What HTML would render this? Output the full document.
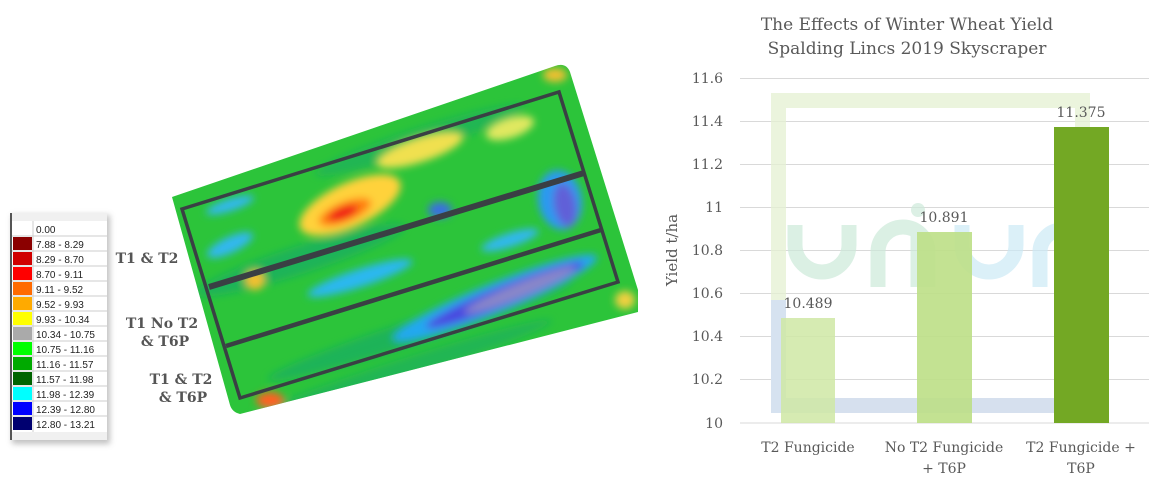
<!DOCTYPE html>
<html><head><meta charset="utf-8"><style>
html,body{margin:0;padding:0;background:#fff;width:1165px;height:485px;overflow:hidden}
svg{display:block}
</style></head><body>
<svg width="1165" height="485" viewBox="0 0 1165 485" xmlns="http://www.w3.org/2000/svg">
<defs>
<clipPath id="field"><path d="M172,197 L555,66 Q566,62 570,72 L638,290 L638,312 L240,414 Q232,412 230,405 Z"/></clipPath>
<filter id="bl" x="-30%" y="-30%" width="160%" height="160%"><feGaussianBlur stdDeviation="4"/></filter>
<filter id="sh" x="-10%" y="-10%" width="130%" height="130%"><feGaussianBlur stdDeviation="3"/></filter>
</defs>

<!-- legend -->
<rect x="12" y="215" width="98" height="229" fill="#999" filter="url(#sh)" opacity="0.6"/>
<rect x="10" y="213" width="97" height="227" fill="#f0f0f0"/>
<rect x="10" y="213" width="2" height="227" fill="#555"/>
<g font-family="Liberation Sans, sans-serif" font-size="10" fill="#222">
<rect x="12" y="221" width="95" height="211" fill="#fff"/>
<g stroke="#ccc" stroke-width="1">
<line x1="12" y1="236" x2="107" y2="236"/><line x1="12" y1="251" x2="107" y2="251"/><line x1="12" y1="266" x2="107" y2="266"/><line x1="12" y1="281" x2="107" y2="281"/><line x1="12" y1="296" x2="107" y2="296"/><line x1="12" y1="311" x2="107" y2="311"/><line x1="12" y1="326" x2="107" y2="326"/><line x1="12" y1="341" x2="107" y2="341"/><line x1="12" y1="356" x2="107" y2="356"/><line x1="12" y1="371" x2="107" y2="371"/><line x1="12" y1="386" x2="107" y2="386"/><line x1="12" y1="401" x2="107" y2="401"/><line x1="12" y1="416" x2="107" y2="416"/><line x1="33" y1="221" x2="33" y2="432"/></g>
<rect x="13" y="237" width="19" height="13" fill="#8b0000"/>
<rect x="13" y="252" width="19" height="13" fill="#d00000"/>
<rect x="13" y="267" width="19" height="13" fill="#ff0000"/>
<rect x="13" y="282" width="19" height="13" fill="#ff6a00"/>
<rect x="13" y="297" width="19" height="13" fill="#ffaa00"/>
<rect x="13" y="312" width="19" height="13" fill="#ffff00"/>
<rect x="13" y="327" width="19" height="13" fill="#aaaaaa"/>
<rect x="13" y="342" width="19" height="13" fill="#00ff00"/>
<rect x="13" y="357" width="19" height="13" fill="#00aa00"/>
<rect x="13" y="372" width="19" height="13" fill="#006400"/>
<rect x="13" y="387" width="19" height="13" fill="#00ffff"/>
<rect x="13" y="402" width="19" height="13" fill="#0000ff"/>
<rect x="13" y="417" width="19" height="13" fill="#000070"/>
<text x="36" y="233">0.00</text>
<text x="36" y="248">7.88 - 8.29</text>
<text x="36" y="263">8.29 - 8.70</text>
<text x="36" y="278">8.70 - 9.11</text>
<text x="36" y="293">9.11 - 9.52</text>
<text x="36" y="308">9.52 - 9.93</text>
<text x="36" y="323">9.93 - 10.34</text>
<text x="36" y="338">10.34 - 10.75</text>
<text x="36" y="353">10.75 - 11.16</text>
<text x="36" y="368">11.16 - 11.57</text>
<text x="36" y="383">11.57 - 11.98</text>
<text x="36" y="398">11.98 - 12.39</text>
<text x="36" y="413">12.39 - 12.80</text>
<text x="36" y="428">12.80 - 13.21</text>
</g>

<!-- labels -->
<g font-family="DejaVu Serif, Liberation Serif, serif" font-weight="bold" font-size="14" fill="#555" text-anchor="middle">
<text x="147" y="263">T1 &amp; T2</text>
<text x="162" y="328">T1 No T2</text>
<text x="165" y="346">&amp; T6P</text>
<text x="181" y="384">T1 &amp; T2</text>
<text x="183" y="402">&amp; T6P</text>
</g>

<!-- field map -->
<g clip-path="url(#field)">
<rect x="160" y="55" width="490" height="370" fill="#2cc43a"/>
<g filter="url(#bl)">
<ellipse cx="300" cy="260" rx="110" ry="14" fill="#18a86c" opacity="0.6" transform="rotate(-18 300 260)"/>
<ellipse cx="420" cy="330" rx="160" ry="12" fill="#18a86c" opacity="0.6" transform="rotate(-18 420 330)"/>
<ellipse cx="420" cy="140" rx="110" ry="12" fill="#18a86c" opacity="0.5" transform="rotate(-18 420 140)"/>
<ellipse cx="400" cy="370" rx="160" ry="10" fill="#18a86c" opacity="0.5" transform="rotate(-18 400 370)"/>
<ellipse cx="350" cy="205" rx="55" ry="22" fill="#ffd23a" transform="rotate(-25 350 205)"/>
<ellipse cx="420" cy="150" rx="45" ry="12" fill="#f0e050" transform="rotate(-18 420 150)"/>
<ellipse cx="510" cy="128" rx="25" ry="10" fill="#e0e860" transform="rotate(-18 510 128)"/>
<ellipse cx="345" cy="212" rx="28" ry="10" fill="#ff8010" transform="rotate(-22 345 212)"/>
<ellipse cx="343" cy="213" rx="16" ry="6" fill="#f01818" transform="rotate(-22 343 213)"/>
<ellipse cx="360" cy="278" rx="55" ry="9" fill="#2bb8f0" transform="rotate(-18 360 278)"/>
<ellipse cx="495" cy="298" rx="110" ry="15" fill="#20a8f0" transform="rotate(-22 495 298)"/>
<ellipse cx="505" cy="295" rx="85" ry="10" fill="#4848e0" transform="rotate(-22 505 295)"/>
<ellipse cx="520" cy="290" rx="60" ry="7" fill="#8a88c8" transform="rotate(-22 520 290)"/>
<ellipse cx="560" cy="200" rx="22" ry="30" fill="#2b9af0" transform="rotate(-10 560 200)"/>
<ellipse cx="565" cy="205" rx="11" ry="22" fill="#6060d8" transform="rotate(-10 565 205)"/>
<ellipse cx="440" cy="210" rx="12" ry="8" fill="#3a70e0"/>
<ellipse cx="510" cy="240" rx="30" ry="7" fill="#30b8f0" transform="rotate(-18 510 240)"/>
<ellipse cx="230" cy="245" rx="25" ry="8" fill="#30b8f0" transform="rotate(-25 230 245)"/>
<ellipse cx="230" cy="205" rx="25" ry="6" fill="#30b8f0" transform="rotate(-18 230 205)"/>
<ellipse cx="255" cy="280" rx="10" ry="10" fill="#f0c030"/>
<ellipse cx="270" cy="400" rx="14" ry="8" fill="#ff6020"/>
<ellipse cx="625" cy="300" rx="10" ry="9" fill="#f0d040"/>
<ellipse cx="555" cy="75" rx="12" ry="7" fill="#f0c030"/>
<ellipse cx="440" cy="380" rx="20" ry="5" fill="#30b8f0"/>
</g>
</g>
<g fill="none" stroke="#3a3f44" stroke-linejoin="miter">
<path d="M182,209 L559,92 L618,282 L240,398 Z" stroke-width="3.5"/>
<line x1="209" y1="287" x2="584" y2="173" stroke-width="6"/>
<line x1="226" y1="346" x2="601" y2="230" stroke-width="4.5"/>
</g>

<!-- chart -->
<g font-family="DejaVu Serif, Liberation Serif, serif" fill="#595959">
<text x="907" y="30" font-size="17" text-anchor="middle">The Effects of Winter Wheat Yield</text>
<text x="907" y="54" font-size="17" text-anchor="middle">Spalding Lincs 2019 Skyscraper</text>
</g>
<g stroke="#d9d9d9" stroke-width="1">
<line x1="740" y1="78.5" x2="1149" y2="78.5"/>
<line x1="740" y1="121.5" x2="1149" y2="121.5"/>
<line x1="740" y1="164.5" x2="1149" y2="164.5"/>
<line x1="740" y1="207.5" x2="1149" y2="207.5"/>
<line x1="740" y1="250.5" x2="1149" y2="250.5"/>
<line x1="740" y1="293.5" x2="1149" y2="293.5"/>
<line x1="740" y1="336.5" x2="1149" y2="336.5"/>
<line x1="740" y1="379.5" x2="1149" y2="379.5"/>
<line x1="740" y1="423" x2="1149" y2="423"/>
</g>
<!-- watermark -->
<path d="M771,93 H1090 V413 H771 Z M786,108 V398 H1075 V108 Z" fill="#e4f0d2" opacity="0.75" fill-rule="evenodd"/>
<rect x="771" y="398" width="319" height="15" fill="#d6e0ee"/>
<rect x="771" y="300" width="15" height="113" fill="#d6e2f0"/>
<g fill="none" stroke-width="15" stroke-linecap="butt" opacity="0.7">
<path d="M795,225 V245 A27,27 0 0 0 849,245 V225" stroke="#cdeada"/>
<path d="M878,287 V252 A25,25 0 0 1 928,252 V287" stroke="#cdeada"/>
<line x1="918" y1="230" x2="918" y2="287" stroke="#cdeada"/>
<path d="M962,225 V245 A27,27 0 0 0 1016,245 V225" stroke="#cceaf6"/>
<path d="M1040,287 V252 A22,22 0 0 1 1084,252 V287" stroke="#cceaf6"/>
</g>
<circle cx="918" cy="210" r="7" fill="#cdeada" opacity="0.7"/>
<rect x="781" y="318" width="54" height="105" fill="#cfe7a4" opacity="0.85"/>
<rect x="917" y="232" width="55" height="191" fill="#bddf86" opacity="0.9"/>
<rect x="1054" y="127" width="55" height="296" fill="#73a824"/>
<g font-family="DejaVu Serif, Liberation Serif, serif" font-size="14" fill="#595959">
<text x="808" y="308" text-anchor="middle">10.489</text>
<text x="944" y="222" text-anchor="middle">10.891</text>
<text x="1081" y="117" text-anchor="middle">11.375</text>
<g text-anchor="end" font-size="14">
<text x="723" y="83">11.6</text>
<text x="723" y="126">11.4</text>
<text x="723" y="169">11.2</text>
<text x="723" y="212">11</text>
<text x="723" y="255">10.8</text>
<text x="723" y="298">10.6</text>
<text x="723" y="341">10.4</text>
<text x="723" y="384">10.2</text>
<text x="723" y="428">10</text>
</g>
<text transform="translate(677,250) rotate(-90)" text-anchor="middle" font-size="15">Yield t/ha</text>
<g text-anchor="middle" font-size="14">
<text x="808" y="452">T2 Fungicide</text>
<text x="944" y="452">No T2 Fungicide</text>
<text x="944" y="473">+ T6P</text>
<text x="1081" y="452">T2 Fungicide +</text>
<text x="1081" y="473">T6P</text>
</g>
</g>
</svg>
</body></html>
